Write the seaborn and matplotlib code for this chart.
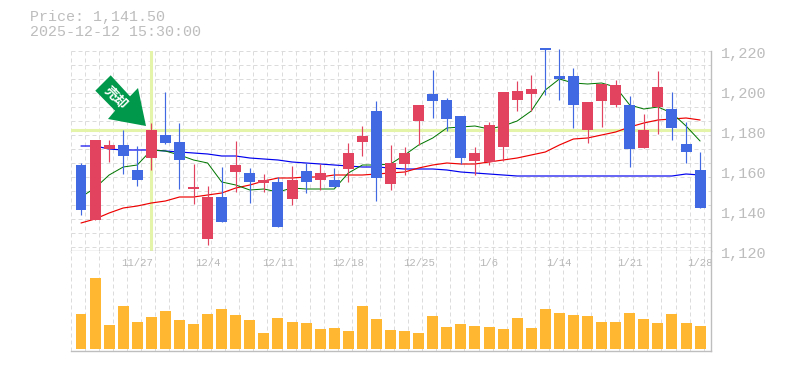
import matplotlib

matplotlib.use("Agg")

import matplotlib.pyplot as plt
import matplotlib.transforms as mtrans
import numpy as np
import pandas as pd
import seaborn as sns
from matplotlib.patches import Polygon

opens = [1162.75, 1135.25, 1170.75, 1172.75, 1160.25, 1166.25, 1177.75, 1174.25, 1150.75, 1125.75,
         1146.75, 1159.25, 1158.75, 1153.75, 1154.25, 1145.75, 1159.75, 1155.25, 1155.25, 1160.75,
         1174.25, 1189.75, 1153.25, 1163.25, 1184.75, 1198.25, 1195.25, 1187.25, 1164.75, 1164.25,
         1171.75, 1195.25, 1198.25, 1221.25, 1207.25, 1207.25, 1180.25, 1194.75, 1192.75, 1192.75,
         1171.25, 1191.75, 1190.75, 1173.25, 1160.25]
closes = [1140.25, 1175.25, 1172.75, 1167.25, 1155.25, 1180.25, 1173.75, 1165.25, 1151.75, 1146.75,
          1134.25, 1162.75, 1154.25, 1155.25, 1131.75, 1155.25, 1154.25, 1158.75, 1151.75, 1168.75,
          1177.25, 1156.25, 1163.75, 1168.75, 1192.75, 1194.75, 1185.75, 1166.25, 1168.75, 1182.75,
          1199.25, 1199.75, 1200.75, 1220.25, 1205.75, 1192.75, 1194.25, 1203.25, 1202.75, 1170.75,
          1180.25, 1201.75, 1181.25, 1169.25, 1141.5]
highs = [1163.75, 1175.25, 1175.25, 1180.25, 1172.25, 1183.75, 1199.25, 1183.75, 1163.25, 1152.25,
         1161.75, 1174.75, 1161.25, 1158.25, 1156.75, 1162.25, 1163.75, 1163.25, 1161.25, 1173.75,
         1182.25, 1194.75, 1172.75, 1171.75, 1192.75, 1210.25, 1196.25, 1187.25, 1171.75, 1184.25,
         1199.25, 1204.75, 1207.75, 1221.25, 1221.0, 1211.25, 1194.25, 1203.25, 1205.25, 1197.25,
         1188.25, 1209.75, 1199.25, 1184.25, 1169.25]
lows = [1137.75, 1135.25, 1164.25, 1158.25, 1152.25, 1160.25, 1173.25, 1150.75, 1143.25, 1122.75,
        1134.25, 1149.25, 1143.75, 1149.25, 1131.75, 1142.75, 1148.75, 1150.25, 1151.75, 1154.25,
        1167.25, 1144.75, 1150.25, 1157.75, 1172.75, 1186.25, 1179.75, 1163.25, 1157.75, 1162.75,
        1164.75, 1189.75, 1189.75, 1197.75, 1195.25, 1181.25, 1173.75, 1181.75, 1191.75, 1161.75,
        1171.25, 1178.25, 1175.25, 1163.75, 1141.5]
ma_short = [1146.75, 1151.25, 1157.75, 1161.75, 1162.75, 1170.25, 1169.75, 1167.75, 1165.25, 1163.75,
            1154.25, 1152.75, 1150.25, 1150.75, 1149.25, 1151.25, 1150.75, 1150.75, 1150.75, 1158.75,
            1162.75, 1162.75, 1163.25, 1167.75, 1172.75, 1176.25, 1181.25, 1181.75, 1182.25, 1180.75,
            1182.25, 1184.75, 1189.75, 1200.25, 1205.75, 1203.75, 1203.25, 1203.75, 1201.75, 1192.75,
            1190.75, 1191.75, 1188.75, 1182.25, 1174.75]
ma_mid = [1133.75, 1135.75, 1138.75, 1141.25, 1142.25, 1143.75, 1144.75, 1146.75, 1146.75, 1147.75,
          1148.75, 1151.25, 1152.75, 1154.75, 1156.25, 1156.25, 1156.75, 1156.75, 1157.75, 1157.75,
          1157.75, 1158.25, 1158.75, 1159.25, 1161.25, 1162.75, 1163.75, 1163.25, 1163.25, 1164.25,
          1165.25, 1166.25, 1167.75, 1169.25, 1172.75, 1175.75, 1176.25, 1177.75, 1179.25, 1181.75,
          1183.75, 1185.25, 1185.75, 1186.25, 1185.25]
ma_long = [1172.25, 1172.25, 1170.75, 1170.25, 1170.25, 1170.25, 1169.75, 1169.25, 1168.75, 1168.25,
           1167.25, 1167.25, 1166.25, 1165.75, 1165.25, 1164.25, 1163.75, 1163.25, 1162.75, 1162.25,
           1161.75, 1161.75, 1161.25, 1160.75, 1160.75, 1160.75, 1160.25, 1159.25, 1158.75, 1158.25,
           1157.75, 1157.25, 1157.25, 1157.25, 1157.25, 1157.25, 1157.25, 1157.25, 1157.25, 1157.25,
           1157.25, 1157.25, 1157.25, 1158.25, 1157.75]
volumes = [35, 71, 24, 43, 27, 32, 38, 29, 25, 35, 40, 34, 29, 16, 31, 27, 26, 20, 21, 18, 43, 30, 19,
           18, 16, 33, 22, 25, 23, 22, 20, 31, 21, 40, 36, 34, 33, 27, 27, 36, 30, 26, 35, 26, 23]
date_labels = ["11/27", "12/4", "12/11", "12/18", "12/25", "1/6", "1/14", "1/21", "1/28"]
date_positions = [4, 9, 14, 19, 24, 29, 34, 39, 44]
price_ticks = [1120, 1140, 1160, 1180, 1200, 1220]
cursor_index = 5

RED = "#e2435f"
BLUE = "#4169e1"
ORANGE = "#ffb732"
HIGHLIGHT = "#e4f5a9"
GRID = "#dcdcdc"
AXIS = "#bebebe"
TEXT = "#bdbdbd"
ARROW = "#00984a"
W, H = 785, 370


def px_axes(left, top, right, bottom):
    return [left / W, 1 - bottom / H, (right - left) / W, (bottom - top) / H]


def draw_grid(ax, xs):
    for x in xs:
        ax.axvline(x, color=GRID, lw=0.72, ls=(0, (4, 3)), zorder=0)


sns.set_theme(style="white")
plt.rcParams["font.family"] = ["Liberation Mono", "DejaVu Sans"]

df = pd.DataFrame({"idx": np.arange(len(opens)), "open": opens, "close": closes, "high": highs, "low": lows,
                   "ma_short": ma_short, "ma_mid": ma_mid, "ma_long": ma_long, "volume": volumes})
xlim = (-0.746, 44.74)
grid_x = np.arange(xlim[0], xlim[1], 1.0)

fig = plt.figure(figsize=(W / 100, H / 100), dpi=100, facecolor="white")
ax = fig.add_axes(px_axes(70.5, 50.5, 710.5, 250.5))
vol_ax = fig.add_axes(px_axes(70.5, 250.5, 710.5, 350.5))

# price panel
ax.set_xlim(*xlim)
ax.set_ylim(1120, 1220)
draw_grid(ax, grid_x)
for y in np.arange(1220, 1120, -7):
    ax.axhline(y, color=GRID, lw=0.72, ls=(0, (4, 3)), zorder=0)
ax.axvline(cursor_index, color=HIGHLIGHT, lw=2.2, zorder=1)
ax.axhline(closes[cursor_index], color=HIGHLIGHT, lw=2.2, zorder=1)

sns.lineplot(data=df, x="idx", y="ma_long", color="#0000ee", lw=0.85, ax=ax, zorder=2)
sns.lineplot(data=df, x="idx", y="ma_mid", color="#ee0000", lw=0.85, ax=ax, zorder=2)
sns.lineplot(data=df, x="idx", y="ma_short", color="#007700", lw=0.72, ax=ax, zorder=2)

up = df["close"] >= df["open"]
colors = np.where(up, RED, BLUE)
ax.vlines(df["idx"], df["low"], df["high"], colors=colors, lw=0.85, zorder=3, clip_on=False)
ax.bar(df["idx"], (df["close"] - df["open"]).abs(), bottom=df[["open", "close"]].min(axis=1),
       width=0.78, color=colors, lw=0, zorder=4, clip_on=False)

ax.set_xlabel("")
ax.set_ylabel("")
ax.set_xticks([])
ax.set_yticks(price_ticks)
ax.set_yticklabels([f"{v:,}" for v in price_ticks], fontsize=11, color=TEXT)
ax.yaxis.tick_right()
ax.tick_params(axis="y", length=0, pad=7.5)
shift = mtrans.ScaledTranslation(0, -2 / 100, fig.dpi_scale_trans)
for label in ax.get_yticklabels():
    label.set_transform(label.get_transform() + shift)

# volume panel
vol_ax.set_ylim(-2, 98)
draw_grid(vol_ax, grid_x)
sns.barplot(data=df, x="idx", y="volume", native_scale=True, color=ORANGE, saturation=1,
            width=0.78, lw=0, ax=vol_ax, zorder=2)
vol_ax.set_xlim(*xlim)
vol_ax.set_xlabel("")
vol_ax.set_ylabel("")
vol_ax.set_yticks([])
vol_ax.set_xticks(date_positions)
vol_ax.set_xticklabels(date_labels, fontsize=7.7, color="#b8b8b8")
vol_ax.xaxis.tick_top()
vol_ax.tick_params(axis="x", length=0, pad=-12.5)

for a in (ax, vol_ax):
    a.set_facecolor("white")
    for side in ("left", "top"):
        a.spines[side].set_visible(False)
    for side in ("right", "bottom"):
        a.spines[side].set_color(AXIS)
        a.spines[side].set_linewidth(1.0)

fig.text(30 / W, 1 - 17.5 / H, "Price: 1,141.50", fontsize=10.8, color=TEXT, va="center", ha="left")
fig.text(30 / W, 1 - 32.5 / H, "2025-12-12 15:30:00", fontsize=10.8, color=TEXT, va="center", ha="left")

# sell marker
arrow_px = [(110.7, 75.3), (95.3, 90.7), (115, 110.7), (108, 119), (146, 126), (138, 88), (130, 96.3)]
fig.add_artist(Polygon([(x / W, 1 - y / H) for x, y in arrow_px], closed=True, transform=fig.transFigure,
                       facecolor=ARROW, edgecolor="none", zorder=6))
fig.text(116 / W, 1 - 98 / H, "売却", fontsize=9.5, color="white", rotation=-45, fontweight="bold",
         family=["Noto Sans CJK JP", "DejaVu Sans"], ha="center", va="center", zorder=7)

fig.savefig("out.png", dpi=100)
